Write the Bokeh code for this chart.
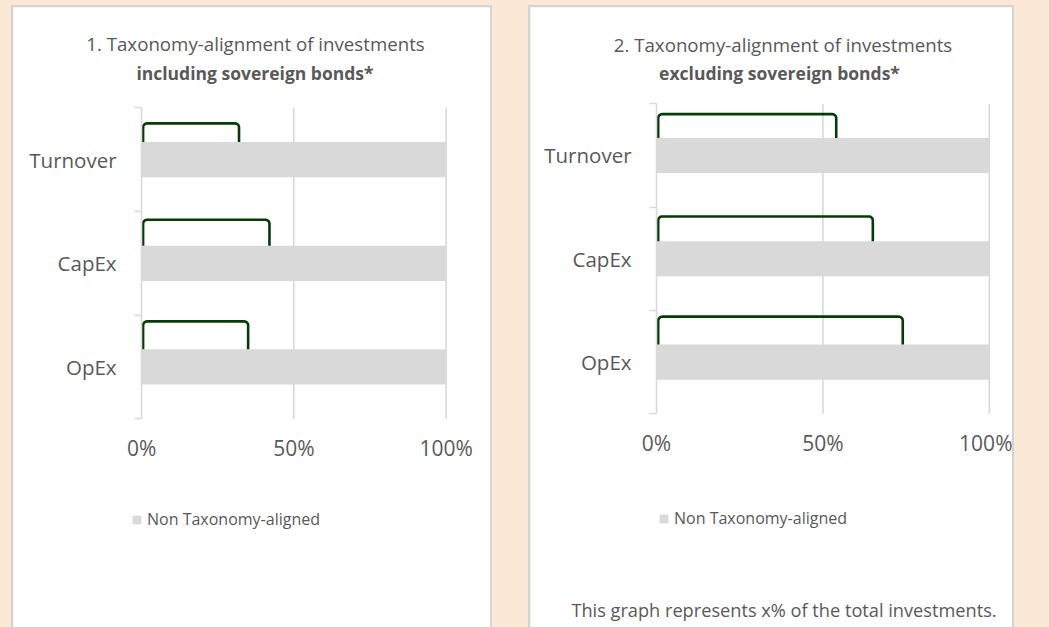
import numpy as np
from bokeh.plotting import figure
from bokeh.models import (Range1d, FixedTicker, Label, Legend, LegendItem,
                          ColumnDataSource, Spacer, Div)
from bokeh.layouts import row, column
from bokeh.embed import file_html
from bokeh.resources import INLINE

# ---------------- data ----------------
categories = ["OpEx", "CapEx", "Turnover"]          # bottom -> top
non_aligned_incl = [100, 100, 100]
non_aligned_excl = [100, 100, 100]
aligned_incl = [35, 42, 32]                          # bracket extents (%)
aligned_excl = [74, 65, 54]
x_ticks = [0, 50, 100]
x_tick_labels = ["0%", "50%", "100%"]
title_incl = ["1. Taxonomy-alignment of investments", "including sovereign bonds*"]
title_excl = ["2. Taxonomy-alignment of investments", "excluding sovereign bonds*"]
legend_text = "Non Taxonomy-aligned"
note_text = "This graph represents x% of the total investments."
top_text = "the investments of the financial product other than sovereign bonds."

FONT = "Open Sans"
TXT = "#595959"
GREY = "#d9d9d9"
GREEN = "#073a07"
PEACH = "#fbe8d7"
BAR_H = 0.34
TOP = 7          # page y of the panels' canvas top
PAGE_H = 627
BORDER = "2px solid #d4d4d4"


def bracket(x0, x1, yb, yt, rx, ry, n=8):
    a1 = np.linspace(np.pi, np.pi / 2, n)
    a2 = np.linspace(np.pi / 2, 0, n)
    xs = [x0] + list(x0 + rx + rx * np.cos(a1)) + list(x1 - rx + rx * np.cos(a2)) + [x1]
    ys = [yb] + list(yt - ry + ry * np.sin(a1)) + list(yt - ry + ry * np.sin(a2)) + [yb]
    return xs, ys


def make_panel(cx, w, px0, px100, pyt, pyb, non_aligned, aligned, rise, titles,
               t1, t2, leg, note=None):
    h = PAGE_H - TOP
    ppx = (px100 - px0) / 100.0
    ppy = (pyb - pyt) / 3.0
    xs0 = -(px0 - cx) / ppx
    ye = 2.5 + (pyt - TOP) / ppy

    def sx(px):
        return px - cx

    def sy(py):
        return PAGE_H - py

    p = figure(width=w, height=h,
               x_range=Range1d(xs0, xs0 + w / ppx),
               y_range=Range1d(ye - h / ppy, ye),
               output_backend="svg", toolbar_location=None,
               min_border=0, min_border_left=0, min_border_right=0,
               min_border_top=0, min_border_bottom=0,
               background_fill_color="white", border_fill_color="white",
               outline_line_color=None,
               styles={"border-top": BORDER, "border-left": BORDER,
                       "border-right": BORDER, "box-sizing": "content-box"})
    ypos = list(range(len(categories)))

    # vertical gridlines (only within the plot band)
    gx = [t for t in x_ticks if t > 0]
    p.segment(x0=gx, x1=gx, y0=[-0.5] * len(gx), y1=[2.5] * len(gx),
              line_color=GREY, line_width=1.6)

    src = ColumnDataSource(dict(y=ypos, right=non_aligned, cat=categories))
    r = p.hbar(y="y", left=0, right="right", height=BAR_H, source=src,
               fill_color=GREY, line_color=None)

    rx = 4.0 / ppx
    ry = 4.0 / ppy
    bxs, bys = [], []
    for yi, a, rs in zip(ypos, aligned, rise):
        bx, by = bracket(0.5, a, yi + BAR_H / 2, yi + BAR_H / 2 + rs, rx, ry)
        bxs.append(bx)
        bys.append(by)
    p.multi_line(xs=bxs, ys=bys, line_color=GREEN, line_width=2.6)

    # axes (inside the frame, at fixed locations)
    p.grid.visible = False
    xa = p.xaxis[0]
    xa.fixed_location = -0.5
    xa.bounds = (0, 100)
    xa.ticker = FixedTicker(ticks=x_ticks)
    xa.major_label_overrides = {t: l for t, l in zip(x_ticks, x_tick_labels)}
    xa.axis_line_color = None
    xa.major_tick_line_color = None
    xa.minor_tick_line_color = None
    xa.major_label_standoff = 9
    xa.major_label_text_font = FONT
    xa.major_label_text_font_size = "21px"
    xa.major_label_text_color = TXT

    ya = p.yaxis[0]
    ya.fixed_location = 0
    ya.bounds = (-0.5, 2.5)
    ya.ticker = FixedTicker(ticks=ypos, minor_ticks=[-0.5, 0.5, 1.5, 2.5])
    ya.major_label_overrides = {i: c for i, c in enumerate(categories)}
    ya.axis_line_color = GREY
    ya.axis_line_width = 1.6
    ya.major_tick_line_color = None
    ya.minor_tick_line_color = GREY
    ya.minor_tick_line_width = 1.6
    ya.minor_tick_out = 7
    ya.minor_tick_in = 0
    ya.major_label_standoff = 18
    ya.major_label_text_font = FONT
    ya.major_label_text_font_size = "20.5px"
    ya.major_label_text_color = TXT

    # titles
    for txt, (tx, ty), style, fs in ((titles[0], t1, "normal", "18.7px"),
                                     (titles[1], t2, "bold", "17.5px")):
        p.add_layout(Label(x=sx(tx), y=sy(ty), x_units="screen", y_units="screen",
                           text=txt, text_align="center", text_baseline="middle",
                           text_font=FONT, text_font_size=fs,
                           text_font_style=style, text_color=TXT))

    legend = Legend(items=[LegendItem(label=legend_text, renderers=[r])],
                    location=(sx(leg[0]), sy(leg[1])), orientation="horizontal",
                    background_fill_alpha=0, border_line_color=None,
                    padding=0, margin=0, spacing=0,
                    glyph_width=11, glyph_height=11, label_standoff=5,
                    label_height=11,
                    label_text_font=FONT, label_text_font_size="16px",
                    label_text_color=TXT)
    p.add_layout(legend, "center")

    if note is not None:
        p.add_layout(Label(x=sx(note[0]), y=sy(note[1]), x_units="screen",
                           y_units="screen", text=note_text, text_align="center",
                           text_baseline="middle", text_font=FONT,
                           text_font_size="18.2px", text_color=TXT))
    return p


left = make_panel(13, 477, 140, 442, 107, 417, non_aligned_incl, aligned_incl,
                  [0.27, 0.25, 0.18], title_incl, (255, 41), (254.5, 70),
                  (131, 528))
right = make_panel(530, 482, 655, 985, 103, 412, non_aligned_excl, aligned_excl,
                   [0.27, 0.24, 0.23], title_excl, (782.5, 42), (779, 70),
                   (658, 527), note=(783.5, 607))

top = Div(text=('<div style="position:relative;height:5px;overflow:hidden;margin:0;padding:0;">'
                '<div style="position:absolute;top:-13px;left:-30px;white-space:nowrap;'
                'font-family:\'Liberation Serif\';font-weight:bold;font-style:italic;'
                'font-size:21px;line-height:21px;color:#000;">%s</div></div>' % top_text),
          width=1049, height=5,
          styles={"overflow": "hidden", "margin": "0", "padding": "0"})

layout = column(top, row(Spacer(width=11), left, Spacer(width=36), right))

html = file_html(layout, INLINE)
html = html.replace("</head>", "<style>body{background-color:%s;}</style></head>" % PEACH, 1)
open("out.html", "w").write(html)
